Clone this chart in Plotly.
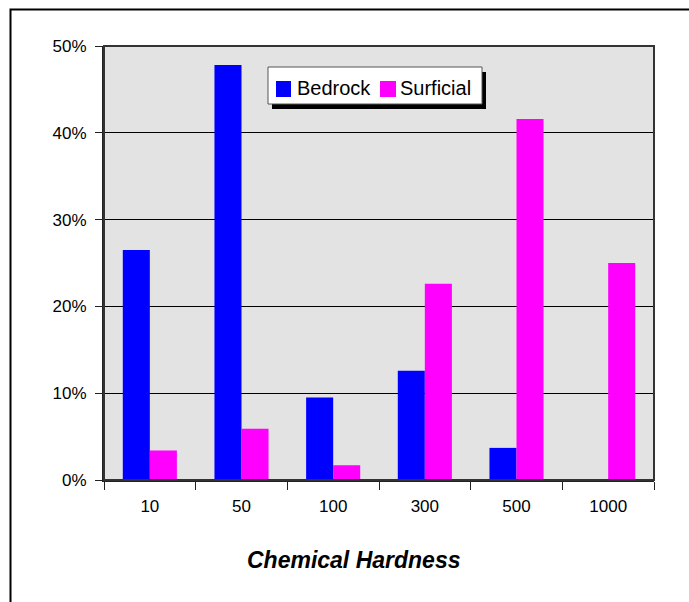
import plotly.graph_objects as go

categories = ["10", "50", "100", "300", "500", "1000"]
bedrock = [0.265, 0.478, 0.095, 0.126, 0.037, 0.0]
surficial = [0.034, 0.059, 0.017, 0.226, 0.416, 0.250]
series_names = ["Bedrock", "Surficial"]
series_colors = ["#0000FF", "#FF00FF"]
y_ticks = [0, 0.1, 0.2, 0.3, 0.4, 0.5]
y_labels = ["0%", "10%", "20%", "30%", "40%", "50%"]

W, H = 689, 602
L, R, T, B = 104, 35, 46, 122
pw, ph = W - L - R, H - T - B


def px(x):
    return (x - L) / pw


def py(y):
    return (H - B - y) / ph


font = "Liberation Sans, Arial, sans-serif"

fig = go.Figure()
for name, vals, col in zip(series_names, [bedrock, surficial], series_colors):
    fig.add_trace(go.Bar(name=name, x=categories, y=vals,
                         marker=dict(color=col, line=dict(width=0))))


def rect(x0, y0, x1, y1, fill, line_color=None, lw=0):
    return dict(type="rect", xref="paper", yref="paper",
                x0=px(x0), y0=py(y1), x1=px(x1), y1=py(y0),
                fillcolor=fill, layer="above",
                line=dict(color=line_color or "rgba(0,0,0,0)", width=lw))


shapes = [
    # outer chart border (runs past right and bottom edges)
    rect(10.5, 9.5, 720, 650, "rgba(0,0,0,0)", "black", 2),
    # plot area border
    dict(type="rect", xref="paper", yref="paper", x0=0, y0=0, x1=1, y1=1,
         line=dict(color="#333333", width=2), fillcolor="rgba(0,0,0,0)", layer="above"),
    # legend shadow, box and swatches
    rect(272, 72, 486, 109, "black"),
    rect(268, 67, 482, 104, "white", "#555555", 1),
    rect(276, 81, 291, 97, series_colors[0]),
    rect(380, 81, 396, 97, series_colors[1]),
]

annotations = [
    dict(text="<b><i>Chemical Hardness</i></b>", xref="paper", yref="paper",
         x=px(353), y=py(560), xanchor="center", yanchor="middle",
         showarrow=False, font=dict(family=font, size=23, color="black")),
    dict(text=series_names[0], xref="paper", yref="paper",
         x=px(295), y=py(88), xanchor="left", yanchor="middle",
         showarrow=False, font=dict(family=font, size=20, color="black")),
    dict(text=series_names[1], xref="paper", yref="paper",
         x=px(398), y=py(88), xanchor="left", yanchor="middle",
         showarrow=False, font=dict(family=font, size=20, color="black")),
]

fig.update_layout(
    width=W, height=H,
    margin=dict(l=L, r=R, t=T, b=B, pad=0),
    paper_bgcolor="white",
    plot_bgcolor="#E3E3E3",
    barmode="group",
    bargap=0.41,
    bargroupgap=0,
    font=dict(family=font, size=17, color="black"),
    showlegend=False,
    xaxis=dict(
        type="category",
        showgrid=False,
        ticks="outside", tickson="boundaries", ticklen=8, tickcolor="#222222", tickwidth=1,
        showline=True, linecolor="#222222", linewidth=2,
        ticklabelstandoff=10,
        tickfont=dict(family=font, size=17),
    ),
    yaxis=dict(
        range=[0, 0.5],
        tickvals=y_ticks, ticktext=y_labels,
        showgrid=True, gridcolor="black", gridwidth=1,
        ticks="outside", ticklen=7, tickcolor="#222222",
        showline=True, linecolor="#222222", linewidth=2,
        zeroline=False,
        ticklabelstandoff=5,
        tickfont=dict(family=font, size=17),
    ),
    shapes=shapes,
    annotations=annotations,
)

fig.write_html("out.html", config={"displayModeBar": False},
               post_script="document.body.style.margin='0px';")
